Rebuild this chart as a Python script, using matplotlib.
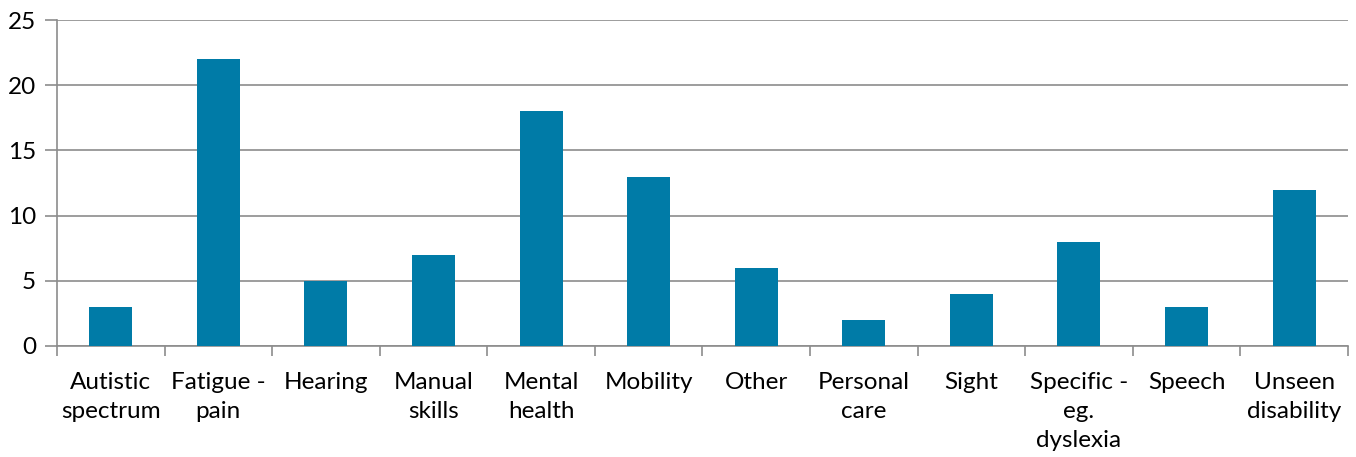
import numpy as np
import matplotlib.pyplot as plt
from matplotlib.ticker import FixedLocator

categories = ['Autistic\nspectrum', 'Fatigue -\npain', 'Hearing', 'Manual\nskills', 'Mental\nhealth',
              'Mobility', 'Other', 'Personal\ncare', 'Sight', 'Specific -\neg.\ndyslexia', 'Speech',
              'Unseen\ndisability']
values = [3, 22, 5, 7, 18, 13, 6, 2, 4, 8, 3, 12]
y_ticks = [0, 5, 10, 15, 20, 25]

plt.rcParams['font.family'] = ['Lato', 'DejaVu Sans']
grid_col = '#8c8c8c'

fig = plt.figure(figsize=(13.56, 4.57), dpi=100)
ax = fig.add_axes([0.042, 0.243, 0.952, 0.713])

x = np.arange(len(categories))
ax.bar(x, values, width=0.4, color='#007ba7', zorder=3)

ax.set_xlim(-0.5, len(categories) - 0.5)
ax.set_ylim(0, 25)
ax.set_yticks(y_ticks)
ax.yaxis.grid(True, color=grid_col, linewidth=1.2, zorder=0)

ax.set_xticks(x)
ax.set_xticklabels(categories, fontsize=17.5, linespacing=1.45)
ax.xaxis.set_minor_locator(FixedLocator(np.arange(-0.5, len(categories), 1.0)))
ax.tick_params(axis='x', which='major', length=0, pad=19)
ax.tick_params(axis='x', which='minor', length=7, width=1.2, color=grid_col)
ax.tick_params(axis='y', length=9, width=1.2, color=grid_col, labelsize=17.5, pad=6)

for s in ['top', 'right']:
    ax.spines[s].set_visible(False)
for s in ['left', 'bottom']:
    ax.spines[s].set_color(grid_col)
    ax.spines[s].set_linewidth(1.2)

fig.savefig('out.png', dpi=100)
